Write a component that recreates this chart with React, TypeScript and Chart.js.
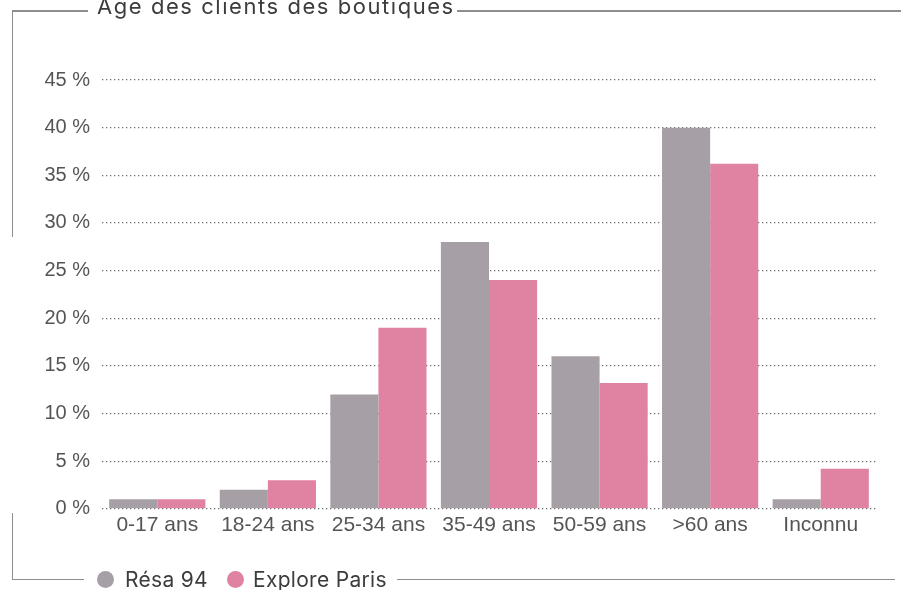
import React, { useEffect, useRef } from "react";
import { Chart, registerables } from "chart.js";

Chart.register(...registerables);

const categories = ["0-17 ans", "18-24 ans", "25-34 ans", "35-49 ans", "50-59 ans", ">60 ans", "Inconnu"];
const resa94 = [1, 2, 12, 28, 16, 40, 1];
const exploreParis = [1, 3, 19, 24, 13.2, 36.2, 4.2];
const seriesNames = ["Résa 94", "Explore Paris"];
const seriesColors = ["#a6a0a6", "#e082a2"];
const titleText = "Âge des clients des boutiques";
const yMax = 45;
const yStep = 5;

const FRAME = "#8e8e8e";
const UI_FONT = "Inter, 'Open Sans', sans-serif";

function Line(props: { x: number; y: number; w: number; h: number }) {
  return (
    <div
      style={{
        position: "absolute",
        left: props.x,
        top: props.y,
        width: props.w,
        height: props.h,
        background: FRAME,
      }}
    />
  );
}

export default function App() {
  const ref = useRef<HTMLCanvasElement | null>(null);

  useEffect(() => {
    if (!ref.current) return;
    const chart = new Chart(ref.current, {
      type: "bar",
      data: {
        labels: categories,
        datasets: [
          {
            label: seriesNames[0],
            data: resa94,
            backgroundColor: seriesColors[0],
            borderWidth: 0,
            categoryPercentage: 0.87,
            barPercentage: 1,
          },
          {
            label: seriesNames[1],
            data: exploreParis,
            backgroundColor: seriesColors[1],
            borderWidth: 0,
            categoryPercentage: 0.87,
            barPercentage: 1,
          },
        ],
      },
      options: {
        responsive: false,
        animation: false,
        layout: { padding: { left: 0, right: 30, top: 80, bottom: 48 } },
        plugins: {
          legend: { display: false },
          title: { display: false },
          tooltip: { enabled: false },
        },
        scales: {
          x: {
            grid: { display: false, drawTicks: false },
            border: { display: false },
            ticks: {
              color: "#555",
              font: { family: "'Liberation Sans', Arial, sans-serif", size: 21 },
              padding: 4,
              maxRotation: 0,
              autoSkip: false,
            },
          },
          y: {
            min: 0,
            max: yMax,
            afterFit: (s: any) => {
              s.width = 102;
            },
            grid: {
              color: "#6f6f6f",
              lineWidth: 1.3,
              drawTicks: false,
            },
            border: { display: false, dash: [1.3, 2.7] },
            ticks: {
              stepSize: yStep,
              color: "#555",
              font: { family: "'Liberation Sans', Arial, sans-serif", size: 20 },
              padding: 12,
              callback: (v: any) => `${v} %`,
            },
          },
        },
      },
    });
    return () => chart.destroy();
  }, []);

  return (
    <div
      style={{
        position: "absolute",
        left: 0,
        top: 0,
        width: 906,
        height: 590,
        overflow: "hidden",
        background: "#fff",
      }}
    >
      <canvas ref={ref} width={906} height={590} style={{ position: "absolute", left: 0, top: 0 }} />
      {/* frame */}
      <Line x={12} y={10} w={76} h={1.5} />
      <Line x={457} y={10} w={444} h={1.5} />
      <Line x={11.5} y={10} w={1.5} h={227} />
      <Line x={11.5} y={513} w={1.5} h={67} />
      <Line x={12} y={578.5} w={72} h={1.5} />
      <Line x={397} y={578.5} w={498} h={1.5} />
      <div
        style={{
          position: "absolute",
          left: 97,
          top: -5,
          fontFamily: UI_FONT,
          fontSize: 22,
          lineHeight: "22px",
          letterSpacing: "1.55px",
          color: "#3c3c3c",
          whiteSpace: "nowrap",
        }}
      >
        {titleText}
      </div>
      {/* legend */}
      {[
        { cx: 97, tx: 125 },
        { cx: 227, tx: 253 },
      ].map((p, i) => (
        <React.Fragment key={i}>
          <div
            style={{
              position: "absolute",
              left: p.cx,
              top: 571,
              width: 17,
              height: 17,
              borderRadius: "50%",
              background: seriesColors[i],
            }}
          />
          <div
            style={{
              position: "absolute",
              left: p.tx,
              top: 569,
              fontFamily: UI_FONT,
              fontSize: 21,
              lineHeight: "21px",
              letterSpacing: "0.3px",
              color: "#3c3c3c",
              whiteSpace: "nowrap",
            }}
          >
            {seriesNames[i]}
          </div>
        </React.Fragment>
      ))}
    </div>
  );
}
